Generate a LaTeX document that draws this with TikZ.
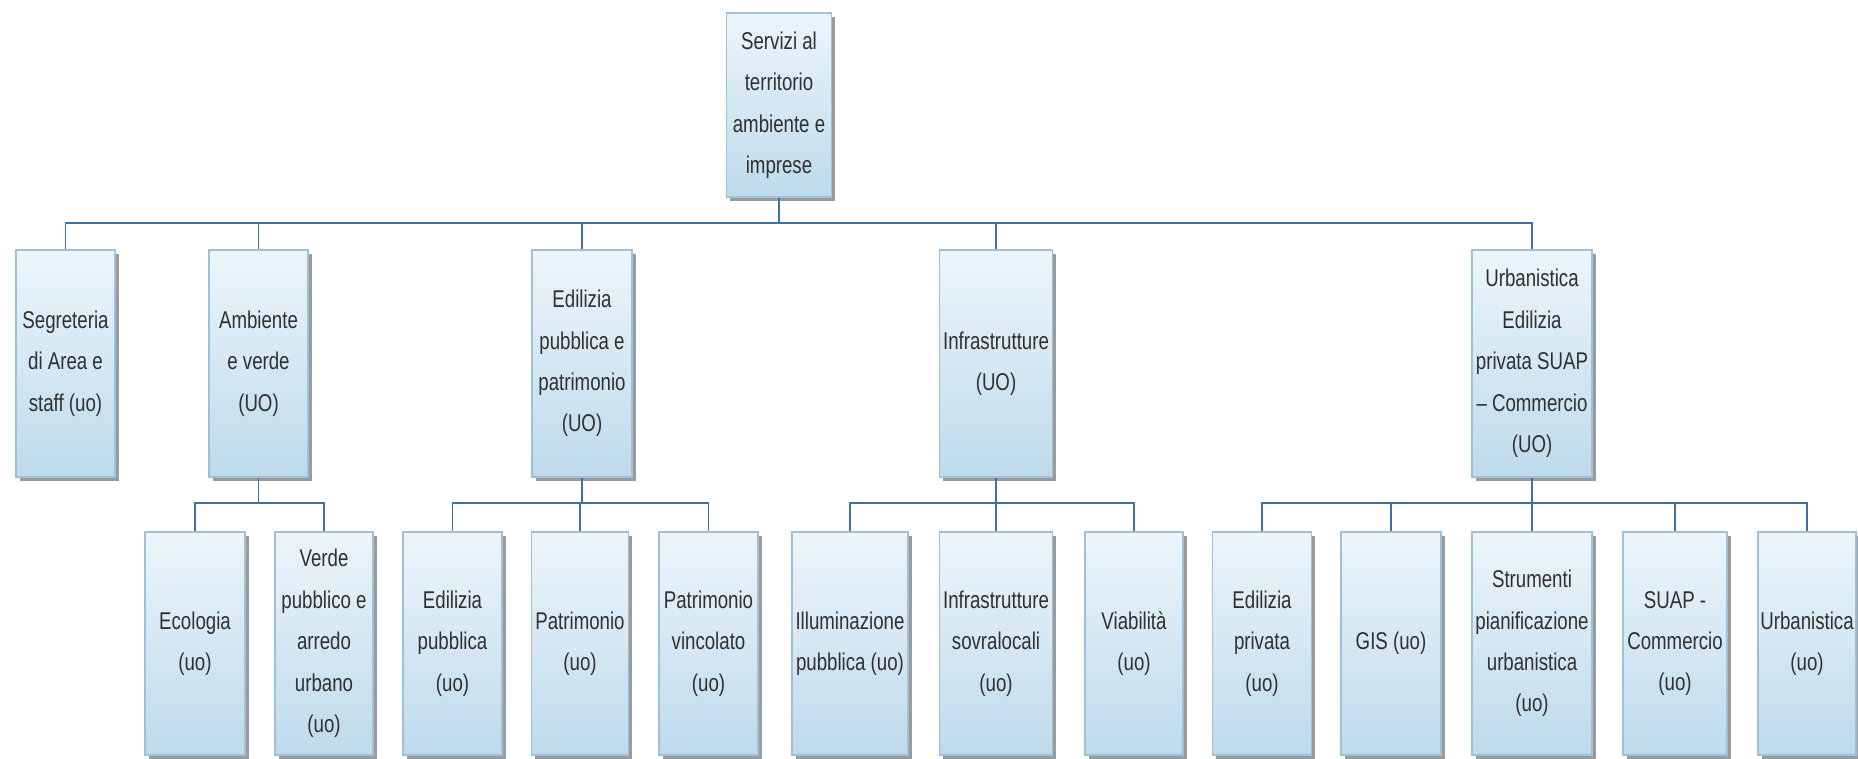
\documentclass[tikz,border=0pt]{standalone}
\usepackage{fontspec}
\setmainfont[FakeStretch=0.77]{Liberation Sans}
\usetikzlibrary{shadows}
\definecolor{wireblue}{RGB}{62,112,160}
\definecolor{boxedge}{RGB}{158,192,216}
\definecolor{boxtop}{RGB}{236,245,251}
\definecolor{boxbot}{RGB}{190,218,235}
\definecolor{inkgrey}{RGB}{48,48,48}
\tikzset{
  unit/.style={rectangle, draw=boxedge, line width=0.8pt, top color=boxtop, bottom color=boxbot,
    align=center, text=inkgrey, inner sep=1pt, font=\fontsize{13.8}{23.6}\selectfont,
    drop shadow={shadow xshift=2.2pt, shadow yshift=-2.2pt, fill=black!65, opacity=0.6}},
  wire/.style={draw=wireblue, line width=0.9pt}
}
\begin{document}
\begin{tikzpicture}[x=0.02cm, y=-0.02cm]
\useasboundingbox (0,0) rectangle (1858,758);
\coordinate (bustop) at (0,223);
\coordinate (bussub) at (0,503);
% head of the area
\node[unit, minimum width=2.1cm, minimum height=3.68cm] (top) at (779,105) {Servizi al\\territorio\\ambiente e\\imprese};
% units
\node[unit, minimum width=1.98cm, minimum height=4.54cm] (seg) at (65.5,363.5) {Segreteria\\di Area e\\staff (uo)};
\node[unit, minimum width=1.98cm, minimum height=4.54cm] (amb) at (258.5,363.5) {Ambiente\\e verde\\(UO)};
\node[unit, minimum width=2.0cm, minimum height=4.54cm] (edp) at (582,363.5) {Edilizia\\pubblica e\\patrimonio\\(UO)};
\node[unit, minimum width=2.26cm, minimum height=4.54cm] (inf) at (996,363.5) {Infrastrutture\\(UO)};
\node[unit, minimum width=2.4cm, minimum height=4.54cm] (urb) at (1532,363.5) {Urbanistica\\Edilizia\\privata SUAP\\– Commercio\\(UO)};
% sub-units
\node[unit, minimum width=2.0cm, minimum height=4.46cm] (eco) at (195,643.5) {Ecologia\\(uo)};
\node[unit, minimum width=1.96cm, minimum height=4.46cm] (ver) at (324,643.5) {Verde\\pubblico e\\arredo\\urbano\\(uo)};
\node[unit, minimum width=1.98cm, minimum height=4.46cm] (edpub) at (452.5,643.5) {Edilizia\\pubblica\\(uo)};
\node[unit, minimum width=1.94cm, minimum height=4.46cm] (pat) at (580,643.5) {Patrimonio\\(uo)};
\node[unit, minimum width=1.98cm, minimum height=4.46cm] (patv) at (708.5,643.5) {Patrimonio\\vincolato\\(uo)};
\node[unit, minimum width=2.32cm, minimum height=4.46cm] (ill) at (850,643.5) {Illuminazione\\pubblica (uo)};
\node[unit, minimum width=2.26cm, minimum height=4.46cm] (infs) at (996,643.5) {Infrastrutture\\sovralocali\\(uo)};
\node[unit, minimum width=1.96cm, minimum height=4.46cm] (via) at (1134,643.5) {Viabilità\\(uo)};
\node[unit, minimum width=1.98cm, minimum height=4.46cm] (edpr) at (1262,643.5) {Edilizia\\privata\\(uo)};
\node[unit, minimum width=2.0cm, minimum height=4.46cm] (gis) at (1391,643.5) {GIS (uo)};
\node[unit, minimum width=2.4cm, minimum height=4.46cm] (stru) at (1532,643.5) {Strumenti\\pianificazione\\urbanistica\\(uo)};
\node[unit, minimum width=2.08cm, minimum height=4.46cm] (suap) at (1675,643.5) {SUAP -\\Commercio\\(uo)};
\node[unit, minimum width=1.96cm, minimum height=4.46cm] (urbu) at (1807,643.5) {Urbanistica\\(uo)};
% connectors
\draw[wire] (top.south) -- (top.south |- bustop) -| (seg.north);
\draw[wire] (top.south) -- (top.south |- bustop) -| (amb.north);
\draw[wire] (top.south) -- (top.south |- bustop) -| (edp.north);
\draw[wire] (top.south) -- (top.south |- bustop) -| (inf.north);
\draw[wire] (top.south) -- (top.south |- bustop) -| (urb.north);
\draw[wire] (amb.south) -- (amb.south |- bussub) -| (eco.north);
\draw[wire] (amb.south) -- (amb.south |- bussub) -| (ver.north);
\draw[wire] (edp.south) -- (edp.south |- bussub) -| (edpub.north);
\draw[wire] (edp.south) -- (edp.south |- bussub) -| (pat.north);
\draw[wire] (edp.south) -- (edp.south |- bussub) -| (patv.north);
\draw[wire] (inf.south) -- (inf.south |- bussub) -| (ill.north);
\draw[wire] (inf.south) -- (inf.south |- bussub) -| (infs.north);
\draw[wire] (inf.south) -- (inf.south |- bussub) -| (via.north);
\draw[wire] (urb.south) -- (urb.south |- bussub) -| (edpr.north);
\draw[wire] (urb.south) -- (urb.south |- bussub) -| (gis.north);
\draw[wire] (urb.south) -- (urb.south |- bussub) -| (stru.north);
\draw[wire] (urb.south) -- (urb.south |- bussub) -| (suap.north);
\draw[wire] (urb.south) -- (urb.south |- bussub) -| (urbu.north);
\end{tikzpicture}
\end{document}
